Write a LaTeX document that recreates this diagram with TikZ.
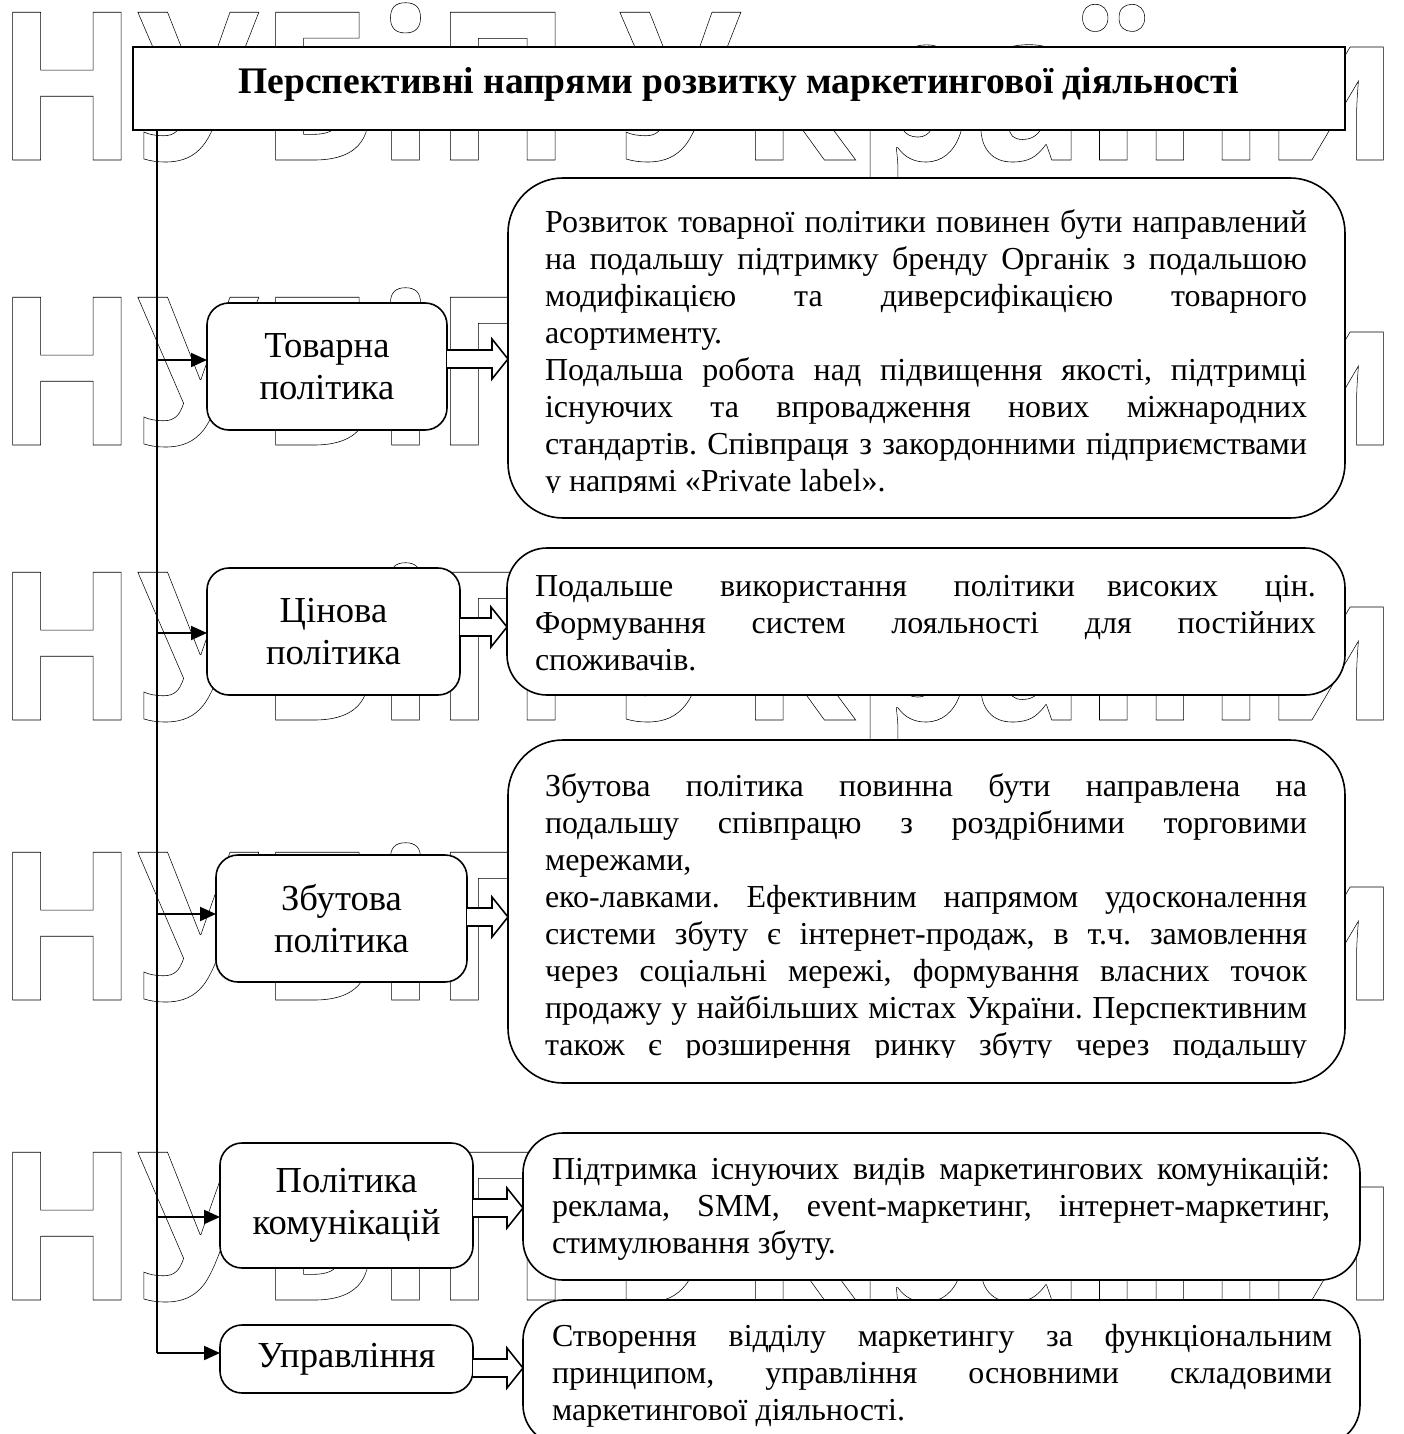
\documentclass[tikz,border=0pt]{standalone}
\usepackage{fontspec}
\usepackage{graphicx}
\setmainfont{Liberation Serif}
% lettering of the background mark, emboldened so that it is stroked as well as filled
\newfontfamily\markstroke{Open Sans}[UprightFont={* Bold},FakeBold=0.28]
\usetikzlibrary{arrows.meta,calc}

% hollow lettering: white fill with a black stroke round each glyph
\newcommand\hollowtext[1]{{\color{white}\special{pdf:literal direct 0 0 0 RG}\markstroke #1}}
% one justified line and one natural line of a description
\newcommand\jl[1]{\hbox to \hsize{#1}}
\newcommand\nl[1]{\hbox to \hsize{#1\hfil}}

\begin{document}
\begin{tikzpicture}[x=1pt,y=-1pt,
  every node/.style={inner sep=0pt,outer sep=0pt},
  headbox/.style={draw,line width=1.6pt,fill=white,minimum width=1212pt,minimum height=83pt},
  topicbox/.style={draw,line width=1.6pt,fill=white,rounded corners=22pt,align=center,
    font=\fontsize{36.6}{42}\selectfont},
  descbox/.style={draw,line width=1.6pt,fill=white,rounded corners=#1},
  desctext/.style={anchor=base west,font=\fontsize{32}{37}\selectfont\frenchspacing},
  feed/.style={line width=2pt,-{Triangle[length=16pt,width=14pt]}},
  blockarrow/.style={draw,line width=1.6pt,fill=white,to path={
    let \p1=(\tikztostart), \p2=(\tikztotarget) in
    (\x1,\y1+9pt) -- (\x2-16pt,\y1+9pt) -- (\x2-16pt,\y1+20pt) -- (\x2,\y1)
    -- (\x2-16pt,\y1-20pt) -- (\x2-16pt,\y1-9pt) -- (\x1,\y1-9pt)}},
]
\useasboundingbox (0,0) rectangle (1403,1434);
\fill[white] (0,0) rectangle (1403,1434);

% background lettering, repeated down the page
\foreach \yb/\nm in {160/w1,445/w2,720/w3,1000/w4,1300/w5}{
  \node[anchor=base west] (\nm) at (-4,\yb)
    {\resizebox{1402pt}{\height}{\fontsize{207}{207}\selectfont\hollowtext{НУБіП України}}};
}

% heading
\node[headbox] (title) at (739,88.5) {};
\node[font=\bfseries\fontsize{37.5}{40}\selectfont] (titletext) at ([yshift=4pt]title.center)
  {Перспективні напрями розвитку маркетингової діяльності};

% trunk and branch points
\coordinate (top) at (157,130);
\coordinate (k1) at (157,360);
\coordinate (k2) at (157,633);
\coordinate (k3) at (157,914);
\coordinate (k4) at (157,1217);
\coordinate (k5) at (157,1353);

% policy areas
\node[topicbox,minimum width=240pt,minimum height=127pt] (t1) at (327,366.5) {Товарна\\політика};
\node[topicbox,minimum width=253pt,minimum height=127pt] (t2) at (333.5,631.5) {Цінова\\політика};
\node[topicbox,minimum width=251pt,minimum height=127pt] (t3) at (341.5,918.5) {Збутова\\політика};
\node[topicbox,minimum width=253pt,minimum height=125pt] (t4) at (346.5,1205.5) {Політика\\комунікацій};
\node[topicbox,minimum width=253pt,minimum height=68pt] (t5) at (346.5,1359) {Управління};

\draw[line width=1.3pt] (top) -- (k4);
\draw[feed] (k1) -- (k1 -| t1.west);
\draw[feed] (k2) -- (k2 -| t2.west);
\draw[feed] (k3) -- (k3 -| t3.west);
\draw[feed] (k4) -- (k4 -| t4.west);
\draw[line width=1.3pt] (k4) -- (k5);
\draw[feed] (k5) -- (k5 -| t5.west);

% descriptions
\node[descbox=55pt,minimum width=837pt,minimum height=340pt] (d1) at (926.5,348) {};
\node[descbox=40pt,minimum width=838pt,minimum height=147pt] (d2) at (926,621.5) {};
\node[descbox=55pt,minimum width=837pt,minimum height=343pt] (d3) at (926.5,911.5) {};
\node[descbox=40pt,minimum width=837pt,minimum height=147pt] (d4) at (941.5,1206.5) {};
\node[descbox=40pt,minimum width=837pt,minimum height=145pt] (d5) at (941.5,1372.5) {};

\begin{scope}
\clip (508,178) rectangle (1345,492);
\node[desctext] (d1text) at (545,232) {\parbox[t]{762pt}{%
\jl{Розвиток товарної політики повинен бути направлений}
\jl{на подальшу підтримку бренду Органік з подальшою}
\jl{модифікацією та диверсифікацією товарного}
\nl{асортименту.}
\jl{Подальша робота над підвищення якості, підтримці}
\jl{існуючих та впровадження нових міжнародних}
\jl{стандартів. Співпраця з закордонними підприємствами}
\nl{у напрямі «Private label».}}};
\end{scope}

\node[desctext] (d2text) at (535,596) {\parbox[t]{781pt}{%
\jl{Подальше використання політики\hskip 32pt високих цін.}
\jl{Формування систем лояльності для постійних}
\nl{споживачів.}}};

\begin{scope}
\clip (508,740) rectangle (1345,1057);
\node[desctext] (d3text) at (545,796) {\parbox[t]{762pt}{%
\jl{Збутова політика повинна бути направлена на}
\jl{подальшу співпрацю з роздрібними торговими}
\nl{мережами,}
\jl{еко-лавками. Ефективним напрямом удосконалення}
\jl{системи збуту є інтернет-продаж, в т.ч. замовлення}
\jl{через соціальні мережі, формування власних точок}
\jl{продажу у найбільших містах України. Перспективним}
\jl{також є розширення ринку збуту через подальшу}}};
\end{scope}

\node[desctext] (d4text) at (552,1179) {\parbox[t]{778pt}{%
\jl{Підтримка існуючих видів маркетингових комунікацій:}
\jl{реклама, SMM, event-маркетинг, інтернет-маркетинг,}
\nl{стимулювання збуту.}}};

\node[desctext] (d5text) at (552,1346) {\parbox[t]{780pt}{%
\jl{Створення відділу маркетингу за функціональним}
\jl{принципом, управління основними складовими}
\nl{маркетингової діяльності.}}};

% hollow arrows from each area to its description
\draw[blockarrow] ([yshift=7.5pt]t1.east) to (d1.west);
\draw[blockarrow] ([yshift=4.5pt]t2.east) to (d2.west);
\draw[blockarrow] ([yshift=1.5pt]t3.east) to (d3.west);
\draw[blockarrow] ([yshift=-2.5pt]t4.east) to (d4.west);
\draw[blockarrow] ([yshift=-9pt]t5.east) to (d5.west);
\end{tikzpicture}
\end{document}
